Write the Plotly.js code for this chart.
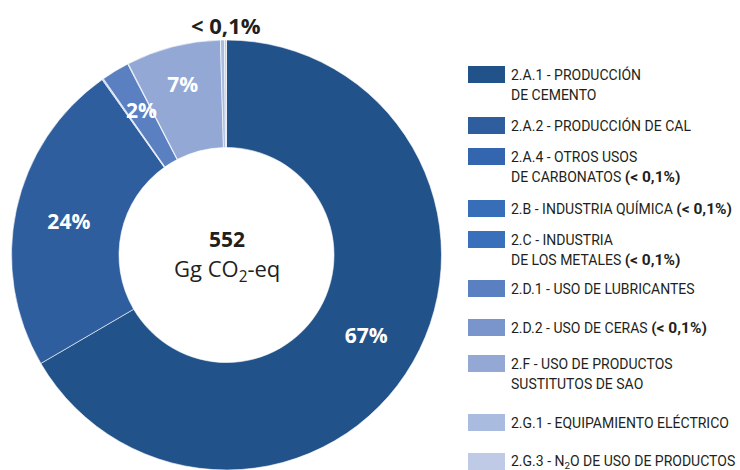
<!DOCTYPE html>
<html>
<head>
<meta charset="utf-8">
<script src="https://cdn.plot.ly/plotly-3.0.1.min.js"></script>
<style>html,body{margin:0;padding:0;background:#fff;}#chart{width:740px;height:470px;}</style>
</head>
<body>
<div id="chart"></div>
<script>
// ---- data ----
const categories = ["2.A.1", "2.A.2", "2.A.4", "2.B", "2.C", "2.D.1", "2.D.2", "2.F", "2.G.1", "2.G.3"];
const values = [66.6, 23.6, 0.05, 0.03, 0.04, 2.1, 0.05, 7.1, 0.3, 0.15];
const sliceText = ["67%", "24%", "", "", "", "2%", "", "7%", "", ""];
const smallTag = "(&lt; 0,1%)";
const legendLabels = [
  ["2.A.1 - PRODUCCIÓN", "DE CEMENTO"],
  ["2.A.2 - PRODUCCIÓN DE CAL"],
  ["2.A.4 - OTROS USOS", "DE CARBONATOS @"],
  ["2.B - INDUSTRIA QUÍMICA @"],
  ["2.C - INDUSTRIA", "DE LOS METALES @"],
  ["2.D.1 - USO DE LUBRICANTES"],
  ["2.D.2 - USO DE CERAS @"],
  ["2.F - USO DE PRODUCTOS", "SUSTITUTOS DE SAO"],
  ["2.G.1 - EQUIPAMIENTO ELÉCTRICO"],
  ["2.G.3 - N<sub>2</sub>O DE USO DE PRODUCTOS"]
];
const colors = ["#22528a", "#2f5e9e", "#3466b0", "#386db8", "#3a70bb", "#5a80c2", "#7995cc", "#93a8d5", "#a9bbdf", "#bfcbe6"];
const totalValue = "552";
const totalUnit = "Gg CO<sub>2</sub>-eq";
const smallLabel = "&lt; 0,1%";

// ---- layout helpers ----
const W = 740, H = 470;
const px = x => x / W;
const py = y => 1 - y / H;
const cx = 226.5, cy = 255, R = 215;
const domX = [px(cx - R), px(cx + R)];
const domY = [py(cy + R), py(cy - R)];

const labelFont = "'Open Sans', 'Noto Sans', sans-serif";
const legendFont = "Roboto, 'Liberation Sans', sans-serif";
const dark = "#231f20";

// pie text: only slices whose label fits natively
const nativeText = sliceText.map((t, i) => (values[i] > 5 ? t : ""));
const textPos = nativeText.map(t => (t ? "inside" : "none"));

const trace = {
  type: "pie",
  labels: categories,
  values: values,
  text: nativeText,
  textinfo: "text",
  textposition: textPos,
  insidetextorientation: "horizontal",
  textfont: {family: labelFont, size: 21, color: "#ffffff", weight: 700},
  hole: 0.5,
  sort: false,
  direction: "clockwise",
  rotation: 0,
  marker: {colors: colors, line: {color: "#ffffff", width: 0.6}},
  domain: {x: domX, y: domY},
  showlegend: false,
  hoverinfo: "label+percent"
};

const annotations = [];
const shapes = [];

// small-slice labels placed at the slice mid-angle (from data)
const total = values.reduce((a, b) => a + b, 0);
let cum = 0;
values.forEach((v, i) => {
  const mid = (cum + v / 2) / total * 2 * Math.PI;
  cum += v;
  if (sliceText[i] && values[i] <= 5) {
    const rr = 0.79 * R;
    annotations.push({
      xref: "paper", yref: "paper",
      x: px(cx + rr * Math.sin(mid) + 3), y: py(cy - rr * Math.cos(mid)),
      text: "<b>" + sliceText[i] + "</b>", showarrow: false,
      xanchor: "center", yanchor: "middle",
      font: {family: labelFont, size: 21, color: "#ffffff"}
    });
  }
});

// "< 0,1%" label above the tiny slices
annotations.push({
  xref: "paper", yref: "paper", x: px(226), y: py(25),
  text: "<b>" + smallLabel + "</b>", showarrow: false,
  xanchor: "center", yanchor: "middle",
  font: {family: labelFont, size: 22, color: dark}
});

// centre text
annotations.push({
  xref: "paper", yref: "paper", x: px(cx), y: py(239),
  text: "<b>" + totalValue + "</b>", showarrow: false,
  xanchor: "center", yanchor: "middle",
  font: {family: labelFont, size: 21, color: dark}
});
annotations.push({
  xref: "paper", yref: "paper", x: px(cx), y: py(270),
  text: totalUnit, showarrow: false,
  xanchor: "center", yanchor: "middle",
  font: {family: labelFont, size: 22, color: dark}
});

// custom legend
const swatchTops = [66, 117, 148, 200, 231, 280, 319, 355, 414, 453];
const swH = 17, swX0 = 468, swX1 = 505, lineH = 20.5;
const boldTag = '<b><span style="font-size:15.5px">' + smallTag + "</span></b>";
legendLabels.forEach((lines, i) => {
  const top = swatchTops[i];
  shapes.push({
    type: "rect", xref: "paper", yref: "paper",
    x0: px(swX0), x1: px(swX1), y0: py(top), y1: py(top + swH),
    fillcolor: colors[i], line: {width: 0}
  });
  lines.forEach((ln, k) => {
    annotations.push({
      xref: "paper", yref: "paper", x: px(509), y: py(top + swH / 2 + k * lineH),
      text: ln.replace("@", boldTag), showarrow: false, align: "left",
      xanchor: "left", yanchor: "middle",
      font: {family: legendFont, size: 14, color: dark}
    });
  });
});

const layout = {
  width: W, height: H,
  margin: {l: 0, r: 0, t: 0, b: 0},
  paper_bgcolor: "#ffffff",
  showlegend: false,
  annotations: annotations,
  shapes: shapes
};

Plotly.newPlot("chart", [trace], layout, {displayModeBar: false, staticPlot: true});
</script>
</body>
</html>
